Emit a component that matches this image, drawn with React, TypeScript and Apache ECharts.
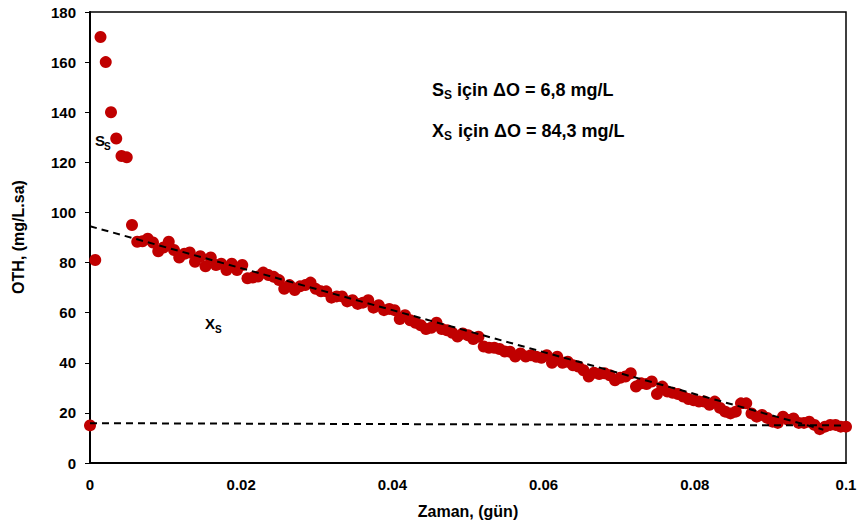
import React, { useEffect, useRef } from "react";
import * as echarts from "echarts";

// Sampling time in minutes (converted to days for the axis)
const minutes = [
  0, 1, 2, 3, 4, 5, 6, 7, 8, 9, 10, 11, 12, 13, 14, 15, 16, 17, 18, 19, 20, 21, 22, 23, 24,
  25, 26, 27, 28, 29, 30, 31, 32, 33, 34, 35, 36, 37, 38, 39, 40, 41, 42, 43, 44, 45, 46, 47, 48,
  49, 50, 51, 52, 53, 54, 55, 56, 57, 58, 59, 60, 61, 62, 63, 64, 65, 66, 67, 68, 69, 70, 71, 72,
  73, 74, 75, 76, 77, 78, 79, 80, 81, 82, 83, 84, 85, 86, 87, 88, 89, 90, 91, 92, 93, 94, 95, 96,
  97, 98, 99, 100, 101, 102, 103, 104, 105, 106, 107, 108, 109, 110, 111, 112, 113, 114, 115, 116,
  117, 118, 119, 120, 121, 122, 123, 124, 125, 126, 127, 128, 129, 130, 131, 132, 133, 134, 135,
  136, 137, 138, 139, 140, 141, 142, 143, 144,
];

// OTH values (mg/L.sa)
const oth = [
  15, 81, 170, 160, 140, 129.5, 122.5, 122, 95, 88.3,
  88.5, 89.5, 88, 84.5, 86, 88.3, 85, 82, 83.5, 84,
  80.3, 82.5, 78.5, 82, 79, 79.5, 77, 79.5, 77, 79,
  73.7, 74, 74.4, 76, 75, 74.3, 73, 69.5, 71, 69,
  70.5, 71, 72, 69.5, 68.5, 68.5, 66, 66.5, 66.5, 64.5,
  65, 63.5, 64, 65, 62, 63, 61, 61.5, 61, 57.5,
  59, 57, 56, 55, 53.5, 54, 56, 53.5, 53, 52,
  50.5, 51.7, 51, 49.5, 50.4, 46.5, 46, 46, 45.5, 44.5,
  44.4, 42.5, 43.7, 42.5, 43, 42.4, 42, 43, 40, 42.4,
  40, 40.4, 39, 38.5, 37, 34.5, 36, 35.5, 35.8, 35,
  33, 34, 34.5, 35.8, 30.5, 31.8, 31.5, 32.5, 27.5, 30.5,
  28.5, 28, 27.5, 26.5, 25.5, 25, 24.5, 24.5, 23.2, 24.5,
  22, 20.5, 19.8, 20.5, 23.8, 23.8, 19.8, 18.5, 19.2, 18,
  16.5, 16, 18.5, 17.2, 17.8, 16, 16, 16.5, 15.2, 13.5,
  14.5, 15.2, 15.2, 14.5, 14.5,
];

// Dashed guide lines [day, OTH]
const xsTrend = [
  [0, 94.5],
  [0.097, 13.3],
];
const ssBaseline = [
  [0, 15.9],
  [0.1, 15.0],
];

const xTicks = { min: 0, max: 0.1, interval: 0.02 };
const yTicks = { min: 0, max: 180, interval: 20 };

const xTitle = "Zaman, (gün)";
const yTitle = "OTH, (mg/L.sa)";

const NARROW = "'Liberation Sans Narrow', 'Arial Narrow', 'Liberation Sans', Arial, sans-serif";
const SANS = "'Liberation Sans', Arial, sans-serif";

export default function App() {
  const ref = useRef<HTMLDivElement>(null);

  useEffect(() => {
    if (!ref.current) return;
    const chart = echarts.init(ref.current, undefined, { renderer: "svg" });
    const points = minutes.map((m, i) => [m / 1440, oth[i]]);

    const txt = (x: number, y: number, text: string, size: number, weight = "bold") => ({
      type: "text",
      x,
      y,
      style: {
        text,
        fontFamily: SANS,
        fontSize: size,
        fontWeight: weight,
        fill: "#000",
        textVerticalAlign: "middle",
      },
    });

    chart.setOption({
      animation: false,
      backgroundColor: "#fff",
      grid: {
        left: 90,
        right: 17,
        top: 12,
        bottom: 63,
        show: true,
        borderColor: "#000",
        borderWidth: 1.5,
        backgroundColor: "transparent",
      },
      xAxis: {
        type: "value",
        min: xTicks.min,
        max: xTicks.max,
        interval: xTicks.interval,
        axisLine: { show: true, onZero: false, lineStyle: { color: "#000", width: 2 } },
        axisTick: { show: false },
        splitLine: { show: false },
        axisLabel: {
          color: "#000",
          fontFamily: NARROW,
          fontWeight: "bold",
          fontSize: 15,
          margin: 14,
          formatter: (v: number) => String(parseFloat(v.toFixed(3))),
        },
      },
      yAxis: {
        type: "value",
        min: yTicks.min,
        max: yTicks.max,
        interval: yTicks.interval,
        axisLine: { show: true, lineStyle: { color: "#000", width: 2 } },
        axisTick: { show: true, length: 5, lineStyle: { color: "#000", width: 1 } },
        splitLine: { show: false },
        axisLabel: {
          color: "#000",
          fontFamily: NARROW,
          fontWeight: "bold",
          fontSize: 15,
          margin: 14,
        },
      },
      series: [
        {
          type: "scatter",
          data: points,
          symbol: "circle",
          symbolSize: 12,
          itemStyle: { color: "#C00000", opacity: 1 },
          z: 2,
        },
        {
          type: "line",
          data: xsTrend,
          symbol: "none",
          lineStyle: { color: "#000", width: 2, type: [7, 5] },
          z: 3,
        },
        {
          type: "line",
          data: ssBaseline,
          symbol: "none",
          lineStyle: { color: "#000", width: 2, type: [7, 5] },
          z: 3,
        },
      ],
      graphic: [
        {
          type: "text",
          x: 18,
          y: 237,
          rotation: Math.PI / 2,
          style: {
            text: yTitle,
            fontFamily: NARROW,
            fontWeight: "bold",
            fontSize: 16,
            fill: "#000",
            textAlign: "center",
            textVerticalAlign: "middle",
          },
        },
        {
          type: "text",
          x: 468,
          y: 511,
          style: {
            text: xTitle,
            fontFamily: NARROW,
            fontWeight: "bold",
            fontSize: 16,
            fill: "#000",
            textAlign: "center",
            textVerticalAlign: "middle",
          },
        },
        // annotation lines
        txt(432, 90, "S", 18),
        txt(444, 95, "S", 12),
        txt(457, 90, "için ΔO = 6,8 mg/L", 18),
        txt(432, 131, "X", 18),
        txt(444, 136, "S", 12),
        txt(458, 131, "için ΔO = 84,3 mg/L", 18),
        // curve labels
        txt(95, 140, "S", 15),
        txt(104, 146, "S", 10),
        txt(205, 323, "X", 15),
        txt(215, 329, "S", 10),
      ],
    });
    return () => chart.dispose();
  }, []);

  return (
    <div
      ref={ref}
      style={{ position: "fixed", left: 0, top: 0, width: 863, height: 526, background: "#fff" }}
    />
  );
}
